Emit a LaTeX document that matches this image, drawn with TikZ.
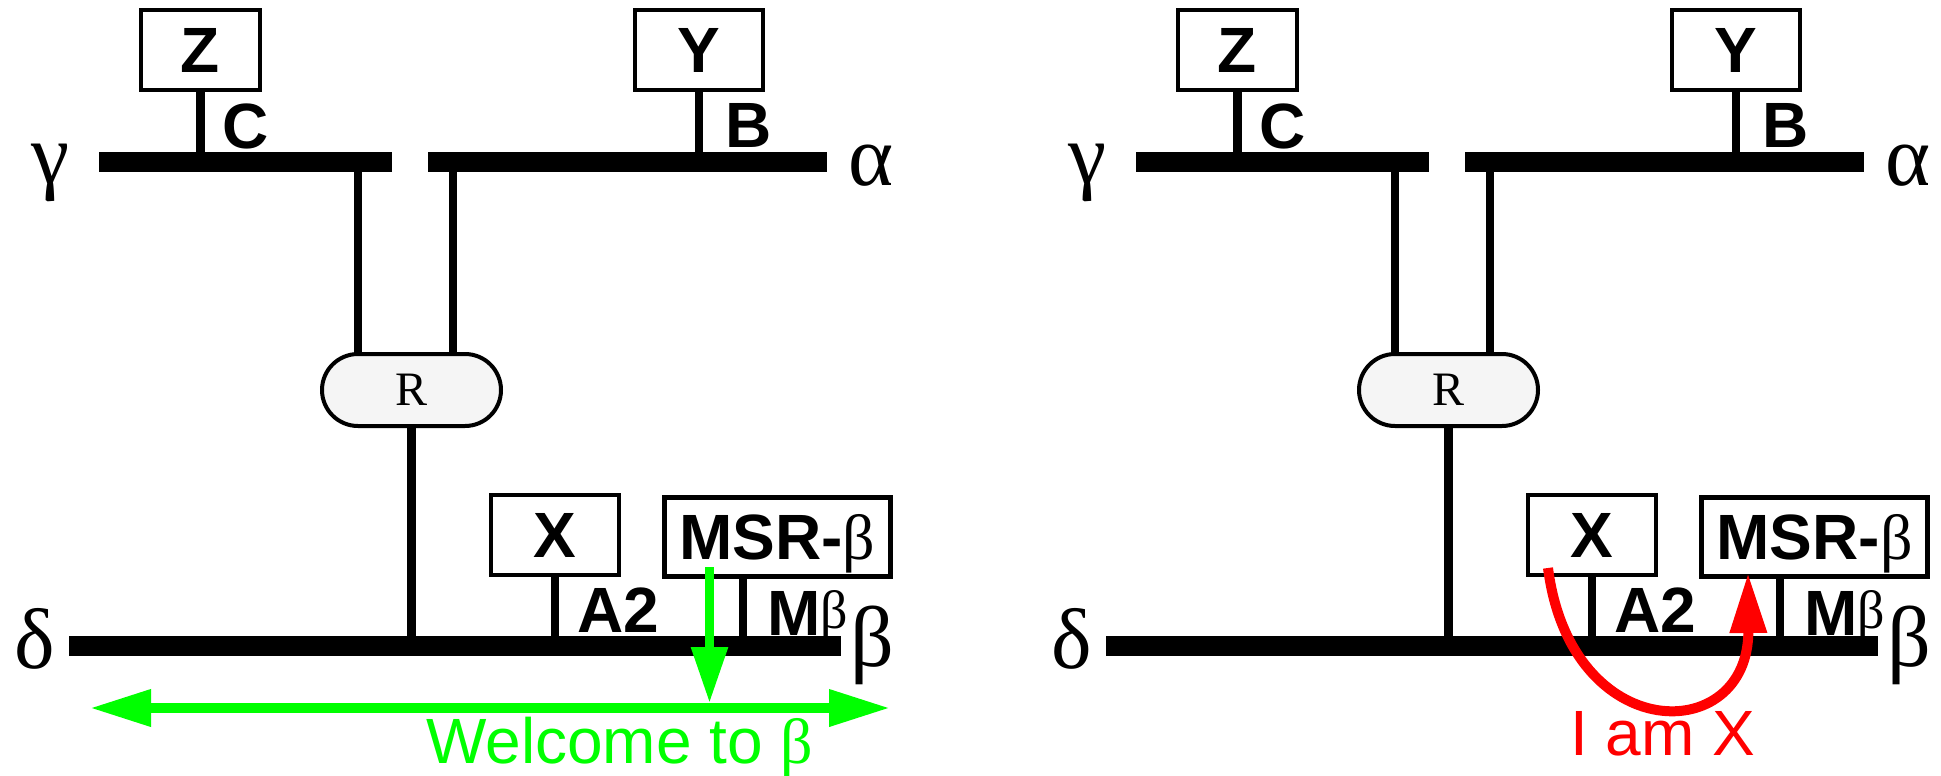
\documentclass[tikz,border=0pt]{standalone}
\usepackage{fontspec}
\setmainfont{Liberation Sans}
\newfontfamily\grk{Liberation Serif}
\usetikzlibrary{arrows.meta}
\definecolor{brightgreen}{HTML}{00FF00}
\definecolor{brightred}{HTML}{FF0000}
\definecolor{rfill}{HTML}{F5F5F5}
\tikzset{
 bus/.style={fill=black, draw=none, rectangle, minimum height=20pt, inner sep=0},
 hostbox/.style={draw, line width=4pt, rectangle, inner sep=0, minimum width=128pt, minimum height=80pt, font=\fontsize{64}{70}\selectfont\bfseries},
 msrbox/.style={hostbox, line width=5pt, minimum width=226pt, minimum height=79pt, text depth=0pt},
 router/.style={draw, line width=4pt, fill=rfill, rounded corners=36pt, minimum width=179pt, minimum height=72pt, inner sep=0, font=\grk\fontsize{48}{52}\selectfont},
 stem/.style={line width=8.5pt},
 iflabel/.style={inner sep=0, anchor=base west, font=\fontsize{64}{70}\selectfont\bfseries},
 greek/.style={inner sep=0, anchor=base west, font=\grk\fontsize{86}{90}\selectfont},
 msgtext/.style={inner sep=0, anchor=base west, font=\fontsize{64}{70}\selectfont},
}
\newcommand\mypanel[2]{%
\begin{scope}[xshift=#2pt]
\node[bus, minimum width=293pt] (#1gbus) at (245.5,162) {};
\node[bus, minimum width=399pt] (#1abus) at (627.5,162) {};
\node[bus, minimum width=772pt] (#1dbus) at (455,646) {};
\node[greek] (#1g) at (31,183) {γ};
\node[greek] (#1a) at (848,185) {α};
\node[greek] (#1d) at (14,668) {δ};
\node[greek] (#1b) at (850,666) {β};
\node[hostbox, minimum width=119pt] (#1Z) at (200.5,50) {Z};
\node[hostbox] (#1Y) at (699,50) {Y};
\node[hostbox] (#1X) at (555,535) {X};
\node[msrbox] (#1M) at (777.5,537) {MSR-{\grk\mdseries β}};
\node[router] (#1R) at (411.5,390) {R};
\draw[stem] (#1Z.south) -- (#1Z.south |- #1gbus.north);
\draw[stem] (#1Y.south) -- (#1Y.south |- #1abus.north);
\draw[stem] ([xshift=-53.5pt]#1R.north) -- ([xshift=-53.5pt]#1R.north |- #1gbus.south);
\draw[stem] ([xshift=41.5pt]#1R.north) -- ([xshift=41.5pt]#1R.north |- #1abus.south);
\draw[stem] (#1R.south) -- (#1R.south |- #1dbus.north);
\draw[stem] (#1X.south) -- (#1X.south |- #1dbus.north);
\draw[stem] ([xshift=-34.5pt]#1M.south) -- ([xshift=-34.5pt]#1M.south |- #1dbus.north);
\node[iflabel] (#1C) at (222,148) {C};
\node[iflabel] (#1B) at (725,147) {B};
\node[iflabel] (#1A) at (577,632) {A2};
\node[iflabel] (#1Mb) at (767,635) {M\raisebox{7pt}{\grk\mdseries\fontsize{54}{58}\selectfont β}};
\end{scope}}
\begin{document}
\begin{tikzpicture}[x=1pt, y=-1pt]
\useasboundingbox (0,0) rectangle (1941,776);
\mypanel{L}{0}
\mypanel{Q}{1037}
% left panel: welcome broadcast
\coordinate (gs) at (709.5,567);
\coordinate (gt) at (709.5,703);
\coordinate (gl) at (90,708);
\coordinate (gr) at (890,708);
\draw[brightgreen, line width=9pt, -{Triangle[length=56pt,width=35pt]}] (gs) -- (gt);
\draw[brightgreen, line width=10pt, {Triangle[length=61pt,width=35pt]}-{Triangle[length=61pt,width=35pt]}] (gl) -- (gr);
\node[msgtext, text=brightgreen] (welcome) at (426,763) {Welcome to {\grk β}};
% right panel: registration
\begin{scope}[xshift=1037pt]
\coordinate (rs) at (511,568);
\coordinate (rt) at (711,573);
\draw[brightred, line width=10pt, -{Triangle[length=60pt,width=35pt]}] (rs) .. controls (534,747) and (712,747) .. (rt);
\node[msgtext, text=brightred] (iamx) at (533,755) {I am X};
\end{scope}
\end{tikzpicture}
\end{document}
